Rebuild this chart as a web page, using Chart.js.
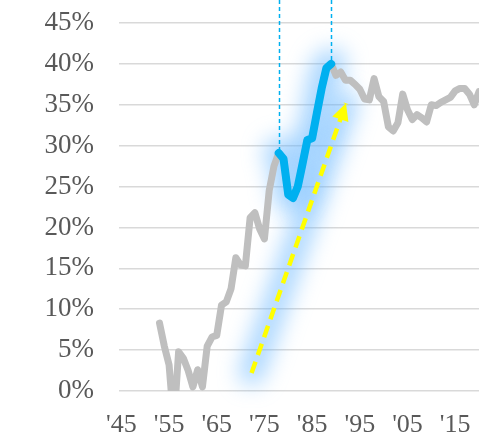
<!DOCTYPE html>
<html><head><meta charset="utf-8">
<script src="https://cdn.jsdelivr.net/npm/chart.js@4/dist/chart.umd.min.js"></script>
<style>html,body{margin:0;padding:0;background:#fff;}#wrap{width:479px;height:437px;position:relative;}</style>
</head><body><div id="wrap"><canvas id="c"></canvas></div>
<script>
// ---- data ----
const years = [];
for (let yr = 1953; yr <= 2020; yr++) years.push(yr);
const share = [
  8.3, 5.5, 3.2, -4, 4.8, 4.0, 2.5, 0.5, 2.6, 0.5,          // 1953-1962
  5.5, 6.6, 6.8, 10.5, 10.9, 12.5, 16.3, 15.4, 15.3, 21.2,  // 1963-1972
  21.8, 19.8, 18.6, 24.5, 27.5, 29.1, 28.4, 24.0, 23.6, 25.0, // 1973-1982
  27.8, 30.7, 30.9, 34.0, 37.0, 39.5, 40.0, 38.6, 39.0, 38.0, // 1983-1992
  38.0, 37.5, 36.9, 35.7, 35.6, 38.2, 36.0, 35.4, 32.3, 31.8, // 1993-2002
  32.8, 36.3, 34.4, 33.2, 33.8, 33.4, 32.9, 35.0, 34.9, 35.3, // 2003-2012
  35.6, 35.9, 36.7, 37.0, 37.0, 36.3, 35.0, 36.6            // 2013-2020
];
const highlightStart = 1978;
const highlightEnd = 1989;
const arrowFrom = [1972.3, 2.2];
const arrowTo = [1992.1, 35.2];
const xTickYears = [1945, 1955, 1965, 1975, 1985, 1995, 2005, 2015];

// ---- derived series ----
const greyPts = years.map((yr, i) => ({x: yr, y: share[i]}));
const bluePts = greyPts.filter(p => p.x >= highlightStart && p.x <= highlightEnd);
const arrowPts = [{x: arrowFrom[0], y: arrowFrom[1]}, {x: arrowTo[0], y: arrowTo[1]}];

const decor = {
  id: 'decor',
  beforeDatasetsDraw(chart) {
    const {ctx, scales: {x, y}} = chart;
    ctx.save();
    ctx.filter = 'blur(11px)';
    ctx.strokeStyle = 'rgba(95,178,255,0.55)';
    ctx.lineWidth = 30;
    ctx.lineJoin = 'round';
    ctx.lineCap = 'round';
    ctx.beginPath();
    bluePts.forEach((p, i) => {
      const px = x.getPixelForValue(p.x), py = y.getPixelForValue(p.y);
      if (i === 0) ctx.moveTo(px, py); else ctx.lineTo(px, py);
    });
    ctx.stroke();
    ctx.lineWidth = 24;
    ctx.beginPath();
    ctx.moveTo(x.getPixelForValue(arrowFrom[0]), y.getPixelForValue(arrowFrom[1]));
    ctx.lineTo(x.getPixelForValue(arrowTo[0]), y.getPixelForValue(arrowTo[1]));
    ctx.stroke();
    ctx.restore();

    ctx.save();
    ctx.strokeStyle = '#00b0f0';
    ctx.lineWidth = 1.5;
    ctx.setLineDash([4, 3]);
    [bluePts[0], bluePts[bluePts.length - 1]].forEach(p => {
      const px = Math.round(x.getPixelForValue(p.x)) + 0.5;
      ctx.beginPath();
      ctx.moveTo(px, 0);
      ctx.lineTo(px, y.getPixelForValue(p.y));
      ctx.stroke();
    });
    ctx.restore();
  },
  afterDatasetsDraw(chart) {
    const {ctx, scales: {x, y}} = chart;
    const x0 = x.getPixelForValue(arrowFrom[0]), y0 = y.getPixelForValue(arrowFrom[1]);
    const x1 = x.getPixelForValue(arrowTo[0]), y1 = y.getPixelForValue(arrowTo[1]);
    const len = Math.hypot(x1 - x0, y1 - y0);
    const ux = (x1 - x0) / len, uy = (y1 - y0) / len;
    const nx = -uy, ny = ux;
    const L = 17, W = 8.5;
    ctx.save();
    ctx.fillStyle = '#ffff00';
    ctx.beginPath();
    ctx.moveTo(x1, y1);
    ctx.lineTo(x1 - L * ux + W * nx, y1 - L * uy + W * ny);
    ctx.lineTo(x1 - L * ux - W * nx, y1 - L * uy - W * ny);
    ctx.closePath();
    ctx.fill();
    ctx.restore();
  }
};

new Chart(document.getElementById('c'), {
  type: 'line',
  data: {
    datasets: [
      {data: bluePts, borderColor: '#00b0f0', borderWidth: 8, pointRadius: 0,
       borderJoinStyle: 'round', borderCapStyle: 'round', tension: 0},
      {data: greyPts, borderColor: '#bfbfbf', borderWidth: 7, pointRadius: 0,
       borderJoinStyle: 'round', borderCapStyle: 'round', tension: 0},
      {data: arrowPts.map(p => ({x: p.x, y: p.y})), borderColor: '#ffff00', borderWidth: 4.5, pointRadius: 0,
       borderDash: [12, 7], borderCapStyle: 'butt', tension: 0}
    ]
  },
  options: {
    responsive: true,
    maintainAspectRatio: false,
    devicePixelRatio: 1,
    animation: false,
    events: [],
    layout: {padding: {top: 23, right: 0, left: 0, bottom: 0}},
    plugins: {legend: {display: false}, tooltip: {enabled: false}},
    scales: {
      x: {
        type: 'linear', min: 1944.5, max: 2020,
        afterBuildTicks: (axis) => { axis.ticks = xTickYears.map(v => ({value: v})); },
        afterFit: (axis) => { axis.height = 46; axis.paddingLeft = 0; axis.paddingRight = 0; },
        grid: {display: false, drawTicks: false},
        border: {display: false},
        ticks: {autoSkip: false, maxRotation: 0, padding: 19, color: '#595959',
                font: {family: '"Liberation Serif", "Times New Roman", serif', size: 26},
                callback: (v) => "'" + String(v).slice(2)}
      },
      y: {
        min: 0, max: 45,
        afterFit: (axis) => { axis.width = 119; axis.paddingTop = 0; axis.paddingBottom = 0; },
        grid: {color: '#d9d9d9', lineWidth: 1.5, drawTicks: false},
        border: {display: false},
        ticks: {stepSize: 5, padding: 25, color: '#595959',
                font: {family: '"Liberation Serif", "Times New Roman", serif', size: 27},
                callback: (v) => v + '%'}
      }
    }
  },
  plugins: [decor]
});
</script>
</body></html>
